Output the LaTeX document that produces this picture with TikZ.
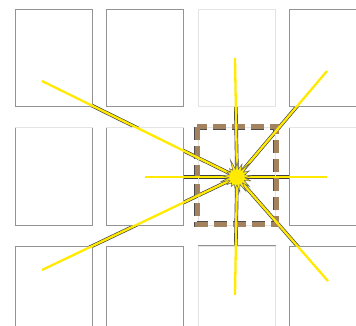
\documentclass[tikz,border=0pt]{standalone}
\usepackage{xcolor}
\usetikzlibrary{shapes.symbols}

\definecolor{rayyellow}{HTML}{FFEA00}
\definecolor{boxtan}{HTML}{A3835F}

\begin{document}
\begin{tikzpicture}[x=1pt, y=-1pt]
    \tikzset{cell/.style={rectangle, draw=gray!85, fill=white, line width=1pt, minimum width=77pt, minimum height=97pt, inner sep=0pt}}
    \tikzset{palecell/.style={cell, draw=gray!22}}
    \tikzset{rayshadow/.style={draw=black!75, line width=3.6pt}}
    \tikzset{ray/.style={draw=rayyellow, line width=2.3pt}}
    \tikzset{framedash/.style={dash pattern=on 13pt off 6pt, line width=5pt}}

    \useasboundingbox (0,0) rectangle (356,326);
    \clip (0,0) rectangle (356,326);

    \coordinate (hub) at (237,177);
    \coordinate (ray-nw) at (42,81);
    \coordinate (ray-sw) at (42,270);
    \coordinate (ray-w) at (145,177);
    \coordinate (ray-e) at (327,177);
    \coordinate (ray-n) at (235,58);
    \coordinate (ray-s) at (235,295);
    \coordinate (ray-ne) at (327,71);
    \coordinate (ray-se) at (328,281);

    % dark rays first, the cells hide most of them
    \foreach \r in {nw,sw,w,e,n,s,ne,se}
        \draw[rayshadow] (hub) -- (ray-\r);

    % grid of cells
    \foreach \col/\x in {1/53.5, 2/144.5, 4/327.5}
        \foreach \row/\y in {1/58.5, 2/176.5, 3/294.5}
            \node[cell] (c-\col-\row) at (\x,\y) {};
    \node[palecell] (c-3-1) at (237,58.5) {};
    \node[palecell, fill=none] (c-3-2) at (237,176.5) {};
    \node[palecell] (c-3-3) at (237,294.5) {};

    % lighter top edges
    \foreach \col in {1,2,4}
        \draw[gray!20, line width=1pt] (c-\col-2.north west) -- (c-\col-2.north east);
    \draw[gray!85, line width=1pt] (c-3-3.north west) -- (c-3-3.north east);

    % dashed frame round the middle cell
    \draw[framedash, black!70, line width=6pt] (197,127) rectangle (276,224);
    \draw[framedash, boxtan] (197,127) rectangle (276,224);

    % yellow rays and burst
    \foreach \r in {nw,sw,w,e,n,s,ne,se}
        \draw[ray] (hub) -- (ray-\r);
    \node[starburst, fill=rayyellow, draw=black!60, line width=0.5pt, starburst points=17, starburst point height=11pt, minimum width=38pt, minimum height=38pt, inner sep=0pt, random starburst=5] (burst) at (hub) {};
\end{tikzpicture}
\end{document}
